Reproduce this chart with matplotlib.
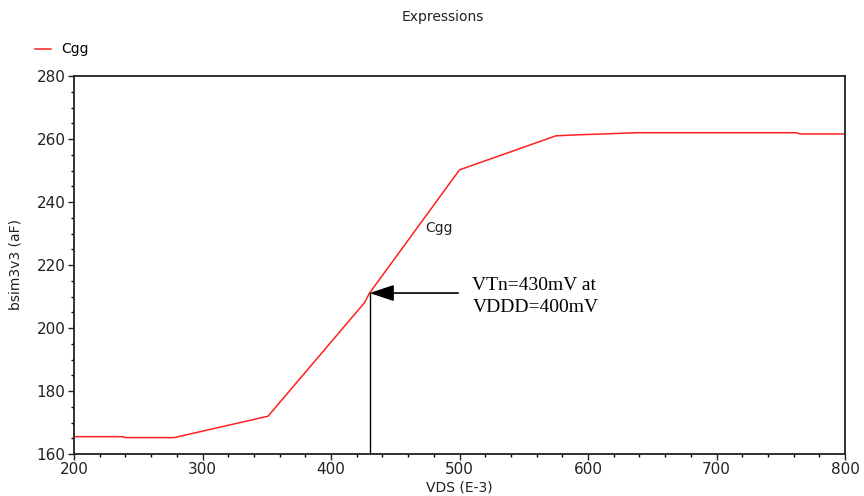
import matplotlib
matplotlib.use("Agg")
import matplotlib.pyplot as plt
from matplotlib.ticker import MultipleLocator

vds = [200, 238, 240, 278, 351, 426, 430, 500, 575, 590, 612, 638, 762, 765, 800]
cgg = [165.5, 165.5, 165.2, 165.2, 172.0, 208.0, 211.1, 250.2, 261.0, 261.3, 261.6, 262.0, 262.0, 261.6, 261.6]

x_ticks = [200, 300, 400, 500, 600, 700, 800]
y_ticks = [160, 180, 200, 220, 240, 260, 280]

vt_x = 430
vt_y = 211.1
annot_text = "VTn=430mV at\nVDDD=400mV"

fig = plt.figure(figsize=(8.64, 4.96), dpi=100)
ax = fig.add_axes([74/864, 1 - 454/496, (845-74)/864, (454-76)/496])

ax.plot(vds, cgg, color="#ff2020", lw=1.1, label="Cgg")
ax.set_xlim(200, 800)
ax.set_ylim(160, 280)
ax.set_xticks(x_ticks)
ax.set_yticks(y_ticks)
ax.xaxis.set_minor_locator(MultipleLocator(20))
ax.yaxis.set_minor_locator(MultipleLocator(5))
ax.tick_params(which="major", direction="out", length=4, width=1, labelsize=11, colors="#222222", pad=2)
ax.tick_params(which="minor", direction="out", length=2, width=1)
for s in ax.spines.values():
    s.set_linewidth(1.3)
    s.set_color("#222222")

ax.set_xlabel("VDS (E-3)", fontsize=10, color="#222222", labelpad=2)
ax.set_ylabel("bsim3v3 (aF)", fontsize=10, color="#222222", labelpad=10)

ax.text(473, 231.7, "Cgg", fontsize=10, color="#222222", ha="left", va="center")

# vertical marker line
ax.plot([vt_x, vt_x], [160, vt_y], color="black", lw=1)
ax.annotate("", xy=(vt_x, vt_y), xytext=(499, vt_y),
            arrowprops=dict(arrowstyle="-|>,head_length=1.5,head_width=0.5", color="black", lw=1.2,
                            shrinkA=0, shrinkB=0))
ax.text(510, 210.0, annot_text, fontsize=14, family="Liberation Serif", ha="left", va="center",
        linespacing=1.4)

fig.text(443/864, 1 - 17/496, "Expressions", fontsize=10, ha="center", va="center", color="#222222")
fig.legend(loc="upper left", bbox_to_anchor=(22/864, 1 - 30/496), frameon=False, fontsize=10,
           handlelength=1.2, handletextpad=0.7)

fig.savefig("out.png", dpi=100)
